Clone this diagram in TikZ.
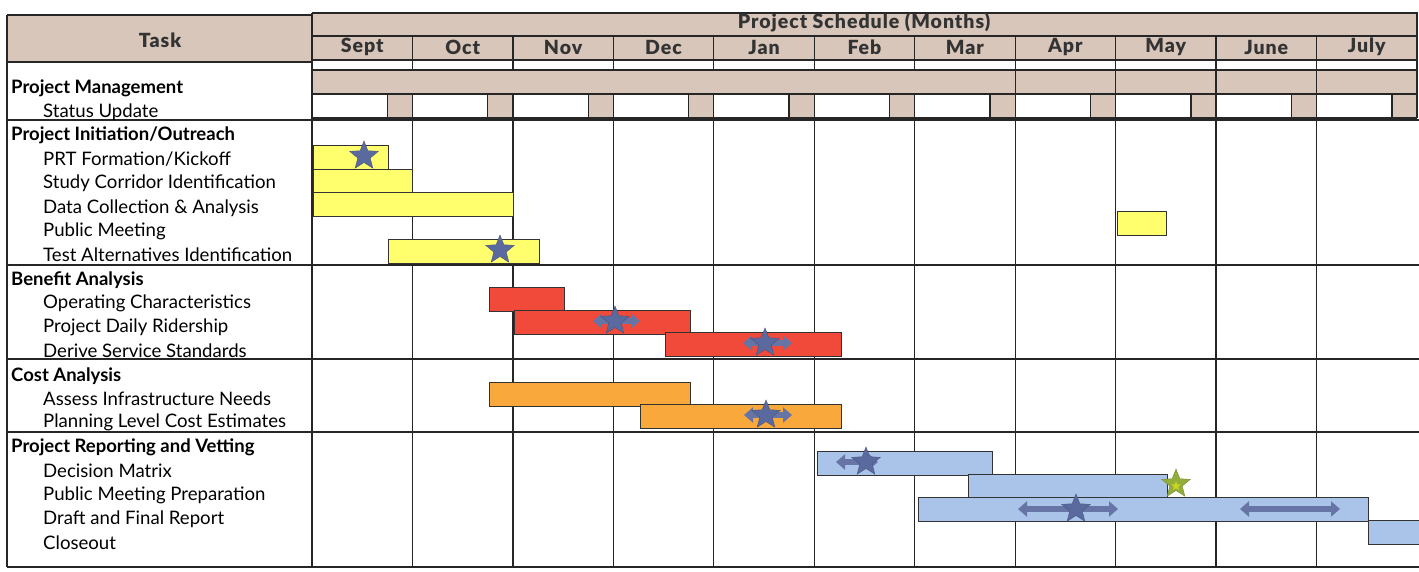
\documentclass[tikz,border=0pt]{standalone}
\usepackage{fontspec}
\setmainfont{Lato}
\newfontfamily\headfont{Lato}[LetterSpace=5.0,BoldFont={Lato Black}]
\usetikzlibrary{shapes.geometric,arrows.meta}
\definecolor{tan}{HTML}{D9C6BB}
\definecolor{baryellow}{HTML}{FFFF6E}
\definecolor{barred}{HTML}{F1493A}
\definecolor{barorange}{HTML}{F9A83C}
\definecolor{barblue}{HTML}{A9C3E9}
\definecolor{starblue}{HTML}{5B6A9E}
\definecolor{arrowblue}{HTML}{6775A6}
\definecolor{stargreen}{HTML}{93AD3A}

\begin{document}
\begin{tikzpicture}[x=1pt,y=-1pt,
  grid/.style={draw=black!85,line width=1.3pt},
  bar/.style={draw=black!80,line width=1pt},
  head label/.style={font=\headfont\fontsize{19.5}{20}\selectfont\bfseries,text=black!80},
  group label/.style={anchor=west,inner sep=0pt,font=\fontsize{18.5}{19}\selectfont\bfseries},
  task label/.style={anchor=west,inner sep=0pt,font=\fontsize{18.6}{19}\selectfont},
  milestone/.style={star,star points=5,star point ratio=2.3,minimum size=30pt,inner sep=0pt,fill=starblue,draw=starblue!80!black,line width=0.4pt},
  span/.style={line width=5.5pt,draw=arrowblue,{Triangle[width=15pt,length=9pt]}-{Triangle[width=15pt,length=9pt]}}]
  \useasboundingbox (0,0) rectangle (1419,571);

  % header background
  \fill[tan] (7,15) rectangle (312,62);
  \fill[tan] (312,13) rectangle (1417,60);
  \fill[tan] (312,70) rectangle (1417,94);
  \foreach \i in {0,...,10} {
    \pgfmathsetmacro\xa{312+100.45*(\i+0.75)}
    \pgfmathsetmacro\xb{312+100.45*(\i+1)}
    \fill[tan] (\xa,94) rectangle (\xb,118);
    \draw[grid] (\xa,94) -- (\xa,118);
  }

  % rulings
  \draw[grid] (7,15) -- (312,15);
  \draw[grid] (312,13) -- (1417,13) -- (1417,118);
  \draw[grid] (7,62) -- (312,62);
  \foreach \y in {36,60,70,94,118} \draw[grid] (312,\y) -- (1417,\y);
  \foreach \y in {120,265,359,432,567} \draw[grid] (7,\y) -- (1419,\y);
  \draw[grid] (7,15) -- (7,567);
  \draw[grid] (312,13) -- (312,567);
  \foreach \i in {1,...,10} {
    \pgfmathsetmacro\xm{312+100.45*\i}
    \draw[grid] (\xm,36) -- (\xm,70);
    \draw[grid] (\xm,94) -- (\xm,567);
  }
  \foreach \i in {7,...,10} {
    \pgfmathsetmacro\xm{312+100.45*\i}
    \draw[grid] (\xm,70) -- (\xm,94);
  }

  % header texts
  \node[head label] (task) at (160,40) {Task};
  \node[head label] (sched) at (864,23) {Project Schedule (Months)};
  \foreach \lbl [count=\i from 0] in {Sept,Oct,Nov,Dec,Jan,Feb,Mar,Apr,May,June,July} {
    \pgfmathsetmacro\xm{312+100.45*(\i+0.5)}
    \node[head label] (m\i) at (\xm,47) {\lbl};
  }

  % task column
  \node[group label] (pm) at (11,88) {Project Management};
  \node[task label] (pm1) at (43,112) {Status Update};
  \node[group label] (pi) at (11,135) {Project Initiation/Outreach};
  \node[task label] (pi1) at (43,159) {PRT Formation/Kickoff};
  \node[task label] (pi2) at (43,183) {Study Corridor Identification};
  \node[task label] (pi3) at (43,208) {Data Collection \& Analysis};
  \node[task label] (pi4) at (43,231) {Public Meeting};
  \node[task label] (pi5) at (43,255) {Test Alternatives Identification};
  \node[group label] (ba) at (11,280) {Benefit Analysis};
  \node[task label] (ba1) at (43,303) {Operating Characteristics};
  \node[task label] (ba2) at (43,327) {Project Daily Ridership};
  \node[task label] (ba3) at (43,351) {Derive Service Standards};
  \node[group label] (ca) at (11,376) {Cost Analysis};
  \node[task label] (ca1) at (43,399) {Assess Infrastructure Needs};
  \node[task label] (ca2) at (43,422) {Planning Level Cost Estimates};
  \node[group label] (pr) at (11,447) {Project Reporting and Vetting};
  \node[task label] (pr1) at (43,471) {Decision Matrix};
  \node[task label] (pr2) at (43,495) {Public Meeting Preparation};
  \node[task label] (pr3) at (43,519) {Draft and Final Report};
  \node[task label] (pr4) at (43,543) {Closeout};

  % bars
  \draw[bar,fill=baryellow] (313,145) rectangle (388,169);
  \draw[bar,fill=baryellow] (313,169) rectangle (412,192);
  \draw[bar,fill=baryellow] (313,192) rectangle (513,216);
  \draw[bar,fill=baryellow] (1117,211) rectangle (1166,235);
  \draw[bar,fill=baryellow] (388,239) rectangle (539,263);
  \draw[bar,fill=barred] (489,287) rectangle (564,311);
  \draw[bar,fill=barred] (514,310) rectangle (690,334);
  \draw[bar,fill=barred] (665,332) rectangle (841,356);
  \draw[bar,fill=barorange] (489,382) rectangle (690,406);
  \draw[bar,fill=barorange] (640,404) rectangle (841,428);
  \draw[bar,fill=barblue] (817,451) rectangle (992,475);
  \draw[bar,fill=barblue] (968,474) rectangle (1167,498);
  \draw[bar,fill=barblue] (918,497) rectangle (1368,521);
  \draw[bar,fill=barblue] (1368,520) rectangle (1421,544);

  % duration arrows
  \foreach \xl/\xr/\y [count=\k] in {593/640/321,743/792/343,744/792/415,836/878/462,1018/1118/509,1240/1340/509} {
    \coordinate (s\k) at (\xl,\y);
    \coordinate (e\k) at (\xr,\y);
    \draw[span] (s\k) -- (e\k);
  }

  % milestones
  \node[milestone] (ms1) at (364,156) {};
  \node[milestone] (ms2) at (500,250) {};
  \node[milestone] (ms3) at (615,321) {};
  \node[milestone] (ms4) at (765,343) {};
  \node[milestone] (ms5) at (766,415) {};
  \node[milestone] (ms6) at (866,462) {};
  \node[milestone] (ms7) at (1076,509) {};
  \node[milestone,fill=stargreen,draw=stargreen!80!black] (ms8) at (1176,484) {};
  \node[milestone,minimum size=10pt,fill=stargreen!50!yellow,draw=none] (ms8c) at (1176,486) {};

\end{tikzpicture}
\end{document}
